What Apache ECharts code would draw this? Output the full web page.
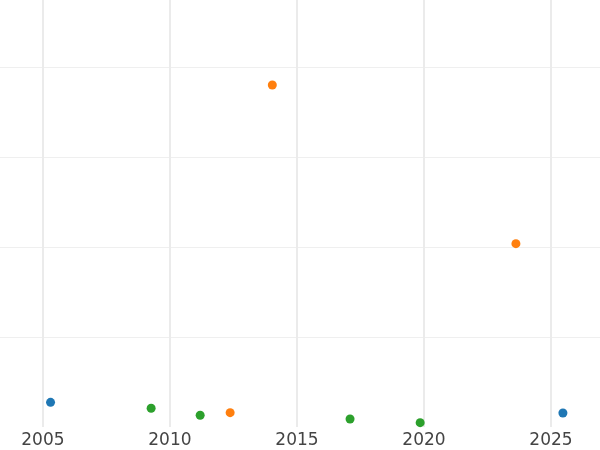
<!DOCTYPE html>
<html>
<head>
<meta charset="utf-8">
<script src="https://cdn.jsdelivr.net/npm/echarts@6/dist/echarts.min.js"></script>
<style>html,body{margin:0;padding:0;background:#fff}#c{width:600px;height:450px}</style>
</head>
<body>
<div id="c"></div>
<script>
var xTicks = [2005, 2010, 2015, 2020, 2025];
var blueX = [2005.30, 2025.47];
var blueY = [274, 156];
var orangeX = [2012.37, 2014.03, 2023.62];
var orangeY = [159, 3800, 2037];
var greenX = [2009.26, 2011.19, 2017.09, 2019.85];
var greenY = [208, 130, 89, 48];

function pts(xs, ys) { return xs.map(function (x, i) { return [x, ys[i]]; }); }

var chart = echarts.init(document.getElementById('c'), null, { renderer: 'canvas' });
chart.setOption({
  animation: false,
  backgroundColor: '#ffffff',
  grid: { left: 0, right: 0, top: 0, bottom: 23, containLabel: false, outerBoundsMode: 'none' },
  xAxis: {
    type: 'value',
    min: 2003.31,
    max: 2026.93,
    axisLine: { show: false },
    axisTick: { show: false, customValues: xTicks },
    axisLabel: {
      customValues: xTicks,
      formatter: function (v) { return String(Math.round(v)); },
      fontFamily: 'DejaVu Sans',
      fontSize: 17,
      color: '#444444',
      margin: 5
    },
    splitLine: { show: true, lineStyle: { color: '#ebebeb', width: 2 } }
  },
  yAxis: {
    type: 'value',
    min: 0,
    max: 4744,
    interval: 1000,
    axisLine: { show: false },
    axisTick: { show: false },
    axisLabel: { show: false },
    splitLine: { show: true, lineStyle: { color: ['rgba(0,0,0,0)', '#efefef', '#efefef', '#efefef', '#efefef'], width: 1 } }
  },
  series: [
    { type: 'scatter', data: pts(blueX, blueY), symbolSize: 9, itemStyle: { color: '#1f77b4', opacity: 1 } },
    { type: 'scatter', data: pts(orangeX, orangeY), symbolSize: 9, itemStyle: { color: '#ff7f0e', opacity: 1 } },
    { type: 'scatter', data: pts(greenX, greenY), symbolSize: 9, itemStyle: { color: '#2ca02c', opacity: 1 } }
  ]
});
</script>
</body>
</html>
